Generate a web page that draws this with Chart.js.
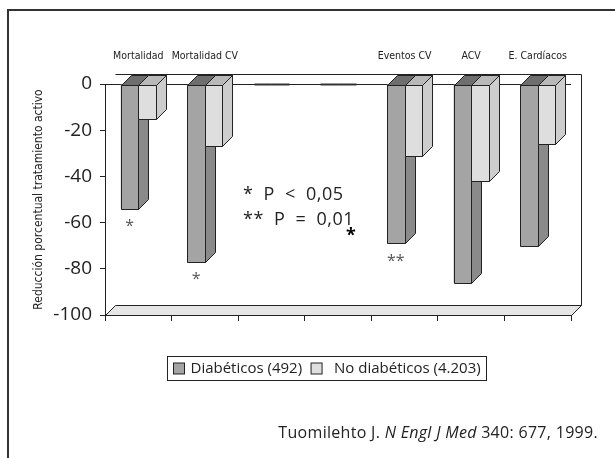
<!DOCTYPE html>
<html>
<head>
<meta charset="utf-8">
<script src="https://cdn.jsdelivr.net/npm/chart.js@4.4.1/dist/chart.umd.min.js"></script>
<style>
  body { margin: 0; background: #fff; }
  #chart { display: block; }
</style>
</head>
<body>
<canvas id="chart" width="615" height="458"></canvas>
<script>
const categories = ['Mortalidad', 'Mortalidad CV', '', '', 'Eventos CV', 'ACV', 'E. Cardíacos'];
const diabeticos = [-54, -77, 0, 0, -69, -86, -70];
const noDiabeticos = [-15, -27, 0, 0, -31, -42, -26];
const significancia = ['*', '*', '', '', '**', '', ''];
const yTicks = [0, -20, -40, -60, -80, -100];
const seriesNames = ['Diabéticos (492)', 'No diabéticos (4.203)'];
const notas = ['* P < 0,05', '** P = 0,01'];
const fuente = ['Tuomilehto J. ', 'N Engl J Med', ' 340: 677, 1999.'];

const narrow = "'Liberation Sans Narrow', 'DejaVu Sans Condensed', sans-serif";
const sans = "'Open Sans', 'DejaVu Sans', sans-serif";
const depth = 10;
const faces = [
  { front: '#a4a4a4', side: '#8a8a8a', top: '#6e6e6e' },
  { front: '#dedede', side: '#cdcdcd', top: '#b9b9b9' }
];

function poly(ctx, pts, fill) {
  ctx.beginPath();
  ctx.moveTo(pts[0][0], pts[0][1]);
  for (let i = 1; i < pts.length; i++) ctx.lineTo(pts[i][0], pts[i][1]);
  ctx.closePath();
  ctx.fillStyle = fill;
  ctx.fill();
  ctx.stroke();
}

// frame, floor and back edges of the 3d box
const boxPlugin = {
  id: 'box3d',
  beforeDatasetsDraw(chart) {
    const ctx = chart.ctx;
    const a = chart.chartArea;
    const l = Math.round(a.left) + 0.5, r = Math.round(a.right) + 0.5;
    const t = Math.round(a.top) + 0.5, b = Math.round(a.bottom) + 0.5;
    ctx.save();
    ctx.strokeStyle = '#222';
    ctx.lineWidth = 1;
    poly(ctx, [[l, b], [r, b], [r + depth, b - depth], [l + depth, b - depth]], '#e6e6e6');
    ctx.beginPath();
    ctx.moveTo(l + depth, t - depth);
    ctx.lineTo(r + depth, t - depth);
    ctx.lineTo(r + depth, b - depth);
    ctx.stroke();
    ctx.restore();
  },
  afterDatasetsDraw(chart) {
    const ctx = chart.ctx;
    ctx.save();
    ctx.strokeStyle = '#222';
    ctx.lineWidth = 1;
    for (let j = 0; j < categories.length; j++) {
      for (let i = 0; i < 2; i++) {
        const bar = chart.getDatasetMeta(i).data[j];
        const p = bar.getProps(['x', 'y', 'base', 'width'], true);
        const x0 = Math.round(p.x - p.width / 2) + 0.5;
        const x1 = Math.round(p.x + p.width / 2) + 0.5;
        const y0 = Math.round(p.base) + 0.5;
        const y1 = Math.round(p.y) + 0.5;
        if (y1 === y0) {
          // empty category: flat bar shows as a dash on the zero line
          ctx.save();
          ctx.strokeStyle = '#333';
          ctx.lineWidth = 2;
          ctx.beginPath();
          ctx.moveTo(x0, y0);
          ctx.lineTo(x1, y0);
          ctx.stroke();
          ctx.restore();
          continue;
        }
        const f = faces[i];
        poly(ctx, [[x0, y0], [x1, y0], [x1, y1], [x0, y1]], f.front);
        poly(ctx, [[x1, y0], [x1 + depth, y0 - depth], [x1 + depth, y1 - depth], [x1, y1]], f.side);
        poly(ctx, [[x0, y0], [x1, y0], [x1 + depth, y0 - depth], [x0 + depth, y0 - depth]], f.top);
      }
      // significance marks under the diabetic bar
      if (significancia[j]) {
        const p = chart.getDatasetMeta(0).data[j].getProps(['x', 'y'], true);
        ctx.fillStyle = '#555';
        ctx.font = '16px ' + sans;
        ctx.textAlign = 'center';
        ctx.textBaseline = 'middle';
        ctx.fillText(significancia[j], p.x, p.y + 18);
      }
    }
    ctx.restore();
  },
  afterDraw(chart) {
    const ctx = chart.ctx;
    ctx.save();
    // outer frame (top and left)
    ctx.strokeStyle = '#333';
    ctx.lineWidth = 2;
    ctx.beginPath();
    ctx.moveTo(8, 458);
    ctx.lineTo(8, 10);
    ctx.lineTo(615, 10);
    ctx.stroke();

    // p-value notes
    ctx.fillStyle = '#222';
    ctx.font = '18px ' + sans;
    ctx.letterSpacing = '0.5px';
    ctx.wordSpacing = '5px';
    ctx.textAlign = 'left';
    ctx.textBaseline = 'middle';
    ctx.fillText(notas[0], 243, 195);
    ctx.fillText(notas[1], 243, 220);
    ctx.letterSpacing = '0px';
    ctx.wordSpacing = '0px';
    ctx.fillStyle = '#000';
    ctx.font = 'bold 18px ' + sans;
    ctx.fillText('*', 346, 236);

    // legend
    ctx.font = '15px ' + sans;
    const w0 = ctx.measureText(seriesNames[0]).width;
    const w1 = ctx.measureText(seriesNames[1]).width;
    const sq = 11;
    const total = 6 + sq + 6 + w0 + 9 + sq + 12 + w1 + 6;
    const lx = Math.round(327 - total / 2) + 0.5;
    const ly = 356.5, lh = 24;
    ctx.strokeStyle = '#222';
    ctx.lineWidth = 1;
    ctx.strokeRect(lx, ly, Math.round(total), lh);
    const cy = ly + lh / 2;
    let x = lx + 6;
    ctx.fillStyle = faces[0].front;
    ctx.fillRect(x, cy - sq / 2, sq, sq);
    ctx.strokeRect(x, cy - sq / 2, sq, sq);
    x += sq + 6;
    ctx.fillStyle = '#222';
    ctx.fillText(seriesNames[0], x, cy);
    x += w0 + 9;
    ctx.fillStyle = faces[1].front;
    ctx.fillRect(x, cy - sq / 2, sq, sq);
    ctx.strokeRect(x, cy - sq / 2, sq, sq);
    x += sq + 12;
    ctx.fillStyle = '#222';
    ctx.fillText(seriesNames[1], x, cy);

    // source
    ctx.letterSpacing = '0.3px';
    const fonts = ['16px ' + sans, 'italic 16px ' + sans, '16px ' + sans];
    let widths = fuente.map((s, i) => { ctx.font = fonts[i]; return ctx.measureText(s).width; });
    let sx = 598 - widths.reduce((s, v) => s + v, 0);
    fuente.forEach((s, i) => {
      ctx.font = fonts[i];
      ctx.fillText(s, sx, 433);
      sx += widths[i];
    });
    ctx.restore();
  }
};

new Chart(document.getElementById('chart').getContext('2d'), {
  type: 'bar',
  data: {
    labels: categories,
    datasets: [
      { label: seriesNames[0], data: diabeticos, backgroundColor: faces[0].front, borderWidth: 0 },
      { label: seriesNames[1], data: noDiabeticos, backgroundColor: faces[1].front, borderWidth: 0 }
    ]
  },
  options: {
    responsive: false,
    animation: false,
    layout: { padding: { left: 0, top: 0, right: 44, bottom: 0 } },
    datasets: { bar: { categoryPercentage: 0.526, barPercentage: 1 } },
    plugins: { legend: { display: false }, tooltip: { enabled: false } },
    scales: {
      x: {
        position: 'bottom',
        offset: true,
        grid: { offset: true, drawOnChartArea: false, tickLength: 6, color: '#222' },
        border: { display: true, color: '#222' },
        ticks: { display: false },
        afterFit: s => { s.height = 143; }
      },
      x2: {
        type: 'category',
        labels: categories,
        position: 'top',
        offset: true,
        grid: { display: false, drawTicks: false },
        border: { display: false },
        ticks: { autoSkip: false, maxRotation: 0, padding: 21, color: '#222', font: { family: narrow, size: 10.5 } },
        afterFit: s => { s.height = 84; }
      },
      y: {
        min: -100,
        max: 0,
        afterBuildTicks: s => { s.ticks = yTicks.map(v => ({ value: v })); },
        grid: {
          color: c => (c.tick && c.tick.value === 0 ? '#222' : 'rgba(0,0,0,0)'),
          tickColor: '#222',
          tickLength: 5
        },
        border: { display: true, color: '#222' },
        ticks: { padding: 8, color: '#222', font: { family: sans, size: 19 } },
        title: {
          display: true,
          text: 'Reducción porcentual tratamiento activo',
          color: '#222',
          font: { family: narrow, size: 12 },
          padding: { top: 32, bottom: 0 }
        },
        afterFit: s => { s.width = 105; }
      }
    }
  },
  plugins: [boxPlugin]
});
</script>
</body>
</html>
